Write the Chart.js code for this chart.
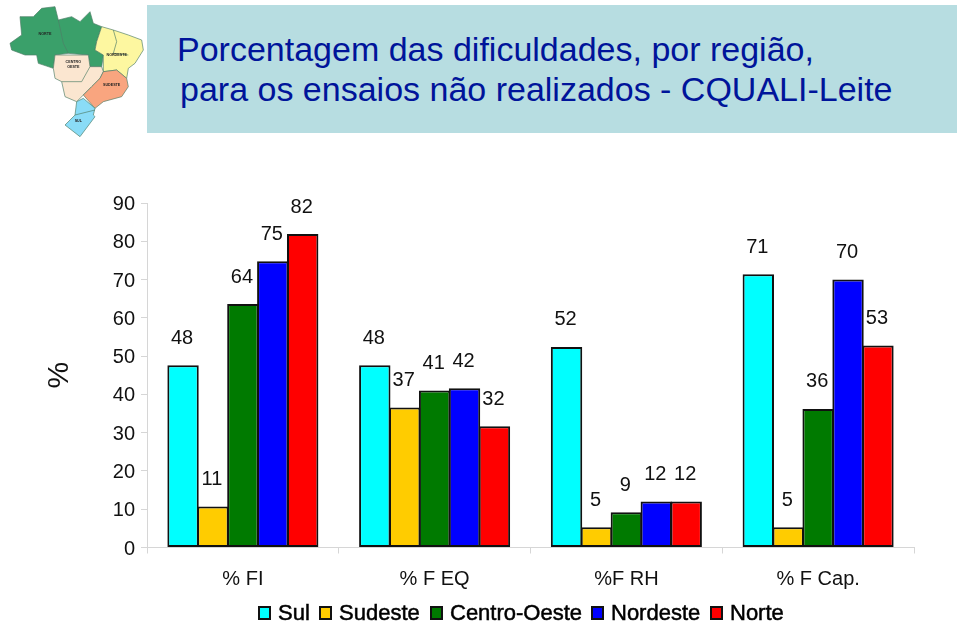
<!DOCTYPE html>
<html>
<head>
<meta charset="utf-8">
<title>Porcentagem das dificuldades</title>
<script src="https://cdn.jsdelivr.net/npm/chart.js@4"></script>
<style>
  html, body { margin: 0; padding: 0; background: #fff; }
  #page { position: relative; width: 959px; height: 624px; overflow: hidden; font-family: "Liberation Sans", Arial, sans-serif; }
  #chartBox { position: absolute; left: 0; top: 0; width: 959px; height: 624px; }
  #map { position: absolute; left: 0; top: 0; filter: blur(0.5px); }
  #banner { position: absolute; left: 147px; top: 5px; width: 810px; height: 128px; background: #b7dde1; color: #00149a; font-size: 34px; }
  #banner div { position: absolute; white-space: nowrap; }
  #legend { position: absolute; left: 0; top: 600px; height: 26px; font-size: 22px; color: #000; -webkit-text-stroke: 0.5px #000; }
  .item { position: absolute; top: 0; white-space: nowrap; line-height: 26px; }
  .item i { position: absolute; left: 0; top: 6px; width: 9px; height: 10px; border: 2px solid #111; }
  .item span { position: absolute; left: 20px; top: 0; }
</style>
</head>
<body>
<div id="page">
  <svg id="map" width="160" height="145" viewBox="0 0 480 435" stroke="#4f7d66" stroke-width="2" stroke-linejoin="round" fill="none">
    <polygon fill="#3aa06a" points="30,130 65,105 60,50 100,50 125,25 165,20 175,60 215,50 240,65 270,35 280,70 305,80 290,125 285,150 310,165 305,200 270,200 265,165 205,160 165,165 160,205 115,190 110,165 75,165 35,150"/>
    <polygon fill="#fdf7a0" points="305,80 340,90 385,105 425,120 430,150 405,190 385,205 380,235 350,210 310,215 310,165 285,150 290,125"/>
    <polygon fill="#fbe6d0" points="165,165 265,165 270,200 305,200 310,215 300,235 275,260 250,285 230,305 195,290 185,245 165,235 160,205"/>
    <polygon fill="#f9a57f" points="310,215 350,210 380,235 385,260 365,290 310,305 285,325 250,285 275,260 300,235"/>
    <polygon fill="#8adcf7" points="230,305 250,295 285,325 280,345 285,350 240,410 195,375 225,345"/>
    <polyline points="175,60 190,130 205,160"/>
    <polyline points="340,90 350,125 340,160 385,165"/>
    <polyline points="185,245 245,245 270,200"/>
    <polyline points="225,345 285,330"/>
    <g font-family="Liberation Sans" font-size="11" font-weight="bold" fill="#222" stroke="none" text-anchor="middle">
      <text x="135" y="104">NORTE</text>
      <text x="350" y="168">NORDESTE</text>
      <text x="220" y="190">CENTRO</text>
      <text x="220" y="203">OESTE</text>
      <text x="335" y="258">SUDESTE</text>
      <text x="235" y="365">SUL</text>
    </g>
  </svg>
  <div id="banner">
    <div style="left:30px;top:25px">Porcentagem das dificuldades, por região,</div>
    <div style="left:33px;top:65px">para os ensaios não realizados - CQUALI-Leite</div>
  </div>
  <div id="chartBox"><canvas id="chart" width="959" height="624"></canvas></div>
  <div id="legend"></div>
</div>
<script>
const categories = ["% FI", "% F EQ", "%F RH", "% F Cap."];
const yTicks = [0, 10, 20, 30, 40, 50, 60, 70, 80, 90];

const sul = [47.6, 47.6, 52.4, 71.4];
const sudeste = [10.7, 36.6, 5.3, 5.3];
const centroOeste = [63.6, 41, 9.2, 36.2];
const nordeste = [74.8, 41.6, 12, 70];
const norte = [81.9, 31.7, 12, 52.8];

const seriesNames = ["Sul", "Sudeste", "Centro-Oeste", "Nordeste", "Norte"];
const seriesColors = ["#00ffff", "#ffcc00", "#007a00", "#0000ff", "#ff0000"];
const legendLeft = [258, 319, 430, 591, 710];

const axisColor = "#d6d6d6";
const fontFamily = '"Liberation Sans", Arial, sans-serif';

// value labels sit a fixed distance above each bar
const barLabels = {
    id: "barLabels",
    afterDatasetsDraw(chart) {
        const ctx = chart.ctx;
        ctx.save();
        ctx.font = "20px " + fontFamily;
        ctx.fillStyle = "#111";
        ctx.textAlign = "center";
        ctx.textBaseline = "middle";
        chart.data.datasets.forEach((ds, i) => {
            chart.getDatasetMeta(i).data.forEach((bar, j) => {
                ctx.fillText(Math.round(ds.data[j]), bar.x - 1, bar.y - 27);
            });
        });
        ctx.restore();
    }
};

let chart = new Chart(document.getElementById("chart"), {
    type: "bar",
    data: {
        labels: categories,
        datasets: [sul, sudeste, centroOeste, nordeste, norte].map((values, i) => ({
            label: seriesNames[i],
            data: values,
            backgroundColor: seriesColors[i],
            borderColor: "#111",
            borderWidth: 2,
            borderSkipped: false,
            categoryPercentage: 0.78,
            barPercentage: 1.05
        }))
    },
    options: {
        responsive: false,
        animation: false,
        layout: { padding: { left: 0, right: 45, top: 203, bottom: 0 } },
        plugins: { legend: { display: false }, tooltip: { enabled: false } },
        scales: {
            x: {
                offset: true,
                afterFit(scale) { scale.height = 76.5; },
                grid: { drawOnChartArea: false, color: axisColor, tickLength: 6, offset: true },
                border: { color: axisColor },
                ticks: { color: "#111", padding: 14, maxRotation: 0, font: { size: 20, family: fontFamily } }
            },
            y: {
                min: 0,
                max: 90,
                afterFit(scale) { scale.width = 147; },
                afterBuildTicks(scale) { scale.ticks = yTicks.map(v => ({ value: v })); },
                grid: { drawOnChartArea: false, color: axisColor, tickLength: 6 },
                border: { color: axisColor },
                ticks: { color: "#111", padding: 6, labelOffset: 1.5, font: { size: 20, family: fontFamily } },
                title: { display: true, text: "%", color: "#111", padding: { top: 42, bottom: 0 }, font: { size: 30, family: fontFamily } }
            }
        }
    },
    plugins: [barLabels]
});

// legend built from the chart's datasets
chart.data.datasets.forEach((ds, i) => {
    let item = document.createElement("div");
    item.className = "item";
    item.style.left = legendLeft[i] + "px";
    item.innerHTML = `<i style="background:${ds.backgroundColor}"></i><span>${ds.label}</span>`;
    document.getElementById("legend").appendChild(item);
});
</script>
</body>
</html>
